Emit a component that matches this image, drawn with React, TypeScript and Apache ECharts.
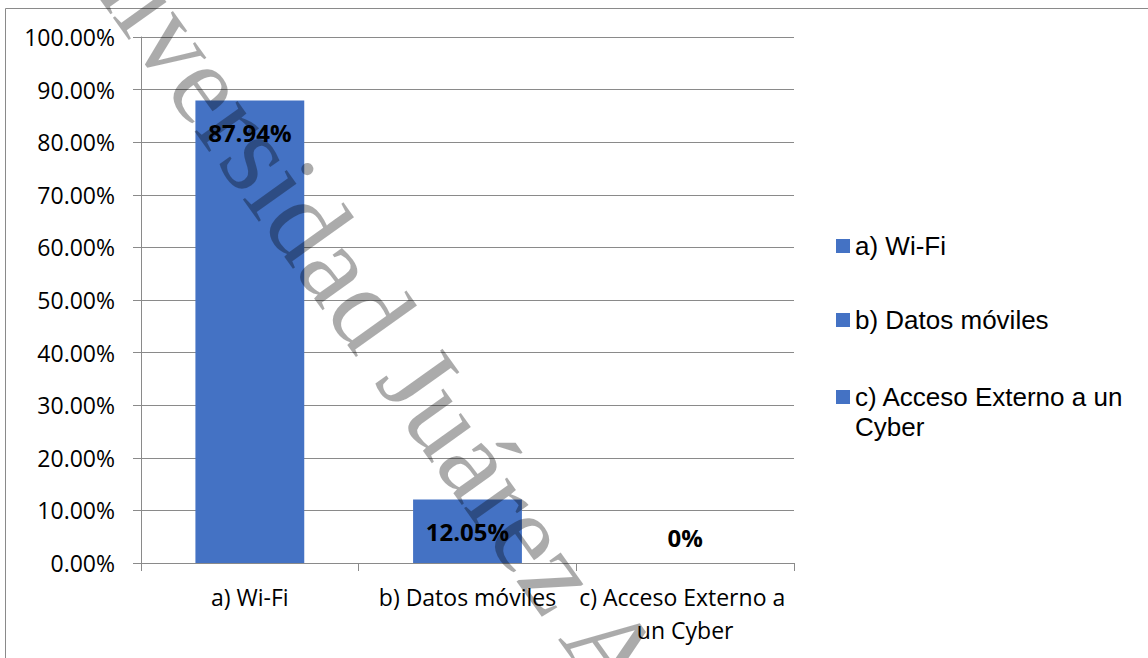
import React, { useEffect, useRef } from "react";
import * as echarts from "echarts";

const categories = ["a) Wi-Fi", "b) Datos móviles", "c) Acceso Externo a un Cyber"];
const legendLabels = ["a) Wi-Fi", "b) Datos móviles", "c) Acceso Externo a un\nCyber"];
const values = [87.94, 12.05, 0];
const valueLabels = ["87.94%", "12.05%", "0%"];
const yMin = 0;
const yMax = 100;
const yStep = 10;
const watermarkText = "Universidad Juárez Autónoma";

const BAR_COLOR = "#4472C4";
const GRID_COLOR = "#8a8a8a";
const AXIS_FONT = "'Open Sans', sans-serif";
const LEGEND_FONT = "'Liberation Sans', Arial, sans-serif";

export default function App() {
  const ref = useRef<HTMLDivElement>(null);

  useEffect(() => {
    if (!ref.current) return;
    const chart = echarts.init(ref.current, null, { renderer: "svg" });

    const series = categories.map((name, i) => ({
      name,
      type: "bar",
      stack: "total",
      barWidth: "50%",
      data: values.map((v, j) => (j === i ? v : "-")),
      itemStyle: { color: BAR_COLOR },
      label: {
        show: true,
        position: values[i] > 0 ? "insideTop" : "top",
        distance: values[i] > 0 ? 20 : 14,
        formatter: () => valueLabels[i],
        color: "#000",
        fontFamily: AXIS_FONT,
        fontWeight: "bold",
        fontSize: 24,
        lineHeight: 24,
      },
    }));

    const legendTops = [231, 305, 382];
    const legends = categories.map((name, i) => ({
      data: [
        {
          name,
          icon:
            i === 2
              ? "path://M0,7h14v14h-14z M0,0h0.01v0.01h-0.01z M0,58h0.01v-0.01h-0.01z"
              : "rect",
        },
      ],
      orient: "vertical",
      left: 836,
      top: legendTops[i],
      padding: 0,
      itemGap: 0,
      itemWidth: 14,
      itemHeight: i === 2 ? 58 : 14,
      selectedMode: false,
      formatter: () => legendLabels[i],
      textStyle: {
        fontFamily: LEGEND_FONT,
        fontSize: 26,
        lineHeight: 30,
        color: "#000",
      },
    }));

    chart.setOption({
      animation: false,
      backgroundColor: "#fff",
      grid: { left: 141, right: 354, top: 37, bottom: 95, containLabel: false },
      legend: legends,
      xAxis: {
        type: "category",
        data: categories,
        axisLine: { show: true, lineStyle: { color: GRID_COLOR, width: 1 } },
        axisTick: { show: true, length: 8, lineStyle: { color: GRID_COLOR } },
        axisLabel: {
          color: "#000",
          fontFamily: AXIS_FONT,
          fontSize: 23,
          lineHeight: 33,
          margin: 17,
          width: 215,
          overflow: "break",
          interval: 0,
        },
      },
      yAxis: {
        type: "value",
        min: yMin,
        max: yMax,
        interval: yStep,
        axisLine: { show: true, lineStyle: { color: GRID_COLOR, width: 1 } },
        axisTick: { show: true, length: 8, lineStyle: { color: GRID_COLOR } },
        splitLine: { show: true, lineStyle: { color: GRID_COLOR, width: 1 } },
        axisLabel: {
          color: "#000",
          fontFamily: AXIS_FONT,
          fontSize: 23,
          margin: 26,
          formatter: (v: number) => v.toFixed(2) + "%",
        },
      },
      series,
      graphic: [
        {
          type: "rect",
          silent: true,
          shape: { x: 5.5, y: 8.5, width: 1200, height: 700 },
          style: { fill: "none", stroke: GRID_COLOR, lineWidth: 1 },
          z: -10,
        },
        {
          type: "text",
          silent: true,
          x: 61,
          y: -121,
          rotation: (-54.4 * Math.PI) / 180,
          z: 100,
          style: {
            text: watermarkText,
            fontFamily: "'Liberation Serif', 'Times New Roman', serif",
            fontSize: 115,
            fill: "rgba(0,0,0,0.33)",
            align: "left",
            verticalAlign: "middle",
          },
        },
      ],
    });

    return () => chart.dispose();
  }, []);

  return (
    <div
      ref={ref}
      style={{ position: "absolute", left: 0, top: 0, width: 1148, height: 658 }}
    />
  );
}
